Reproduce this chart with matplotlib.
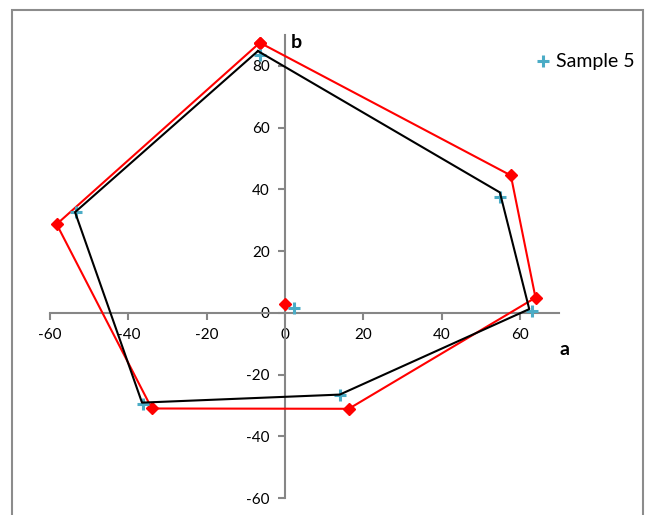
import matplotlib.pyplot as plt
from matplotlib.lines import Line2D
from matplotlib.patches import Rectangle

plt.rcParams['font.family'] = ['Lato', 'DejaVu Sans']
plt.rcParams['axes.unicode_minus'] = False

# Sample 5 measurements (a, b)
sample_a = [2.3, -6.4, 54.9, 63.2, 14.0, -36.3, -53.4]
sample_b = [1.6, 83.5, 37.4, 0.6, -26.5, -29.7, 32.6]

# black outline through the sample points
hull_a = [-6.9, 54.9, 62.4, 14.0, -36.5, -53.6, -6.9]
hull_b = [84.8, 39.0, 1.2, -26.5, -29.1, 32.6, 84.8]

# red reference outline and its centre point
ref_a = [-6.4, 57.7, 64.0, 16.3, -34.0, -58.3, -6.4]
ref_b = [87.5, 44.5, 4.9, -31.1, -31.0, 28.7, 87.5]
centre_a = [0.0]
centre_b = [2.9]

fig = plt.figure(figsize=(6.47, 5.15), dpi=100)
fig.patches.append(Rectangle((12 / 647, -0.1), 631 / 647, 1.1 - 10 / 515,
                             transform=fig.transFigure, fill=False,
                             edgecolor='#8c8c8c', linewidth=1.5))
ax = fig.add_axes([50 / 647, 17 / 515, 509 / 647, 463 / 515])

ax.plot(ref_a, ref_b, color='red', linewidth=1.5, marker='D',
        markersize=6.5, markeredgecolor='red', zorder=3)
ax.plot(centre_a, centre_b, linestyle='none', marker='D', color='red',
        markersize=6.5, zorder=3)
ax.plot(sample_a, sample_b, linestyle='none', marker='+', color='#4bacc6',
        markersize=8, markeredgewidth=2.2, zorder=4)
ax.plot(hull_a, hull_b, color='black', linewidth=1.5, zorder=5)

ax.set_xlim(-60, 70)
ax.set_ylim(-60, 90)
ax.set_xticks(range(-60, 61, 20))
ax.set_yticks(range(-60, 81, 20))

for side in ['top', 'right']:
    ax.spines[side].set_visible(False)
for side in ['left', 'bottom']:
    ax.spines[side].set_position(('data', 0))
    ax.spines[side].set_color('#868686')
    ax.spines[side].set_linewidth(1.5)
ax.tick_params(direction='out', length=5, width=1.5, color='#868686',
               labelsize=11, pad=6)
ax.patch.set_visible(False)

ax.text(71.5, -9, 'a', fontsize=14, fontweight='bold', ha='center', va='top')
ax.text(1.5, 87.5, 'b', fontsize=14, fontweight='bold', ha='left', va='center')

handle = Line2D([], [], linestyle='none', marker='+', color='#4bacc6',
                markersize=8, markeredgewidth=2.2)
fig.legend([handle], ['Sample 5'], loc='center left',
           bbox_to_anchor=(527 / 647, 1 - 62 / 515), frameon=False,
           fontsize=14, handlelength=0.8, handletextpad=0.3,
           borderaxespad=0)

fig.savefig('out.png', dpi=100)
